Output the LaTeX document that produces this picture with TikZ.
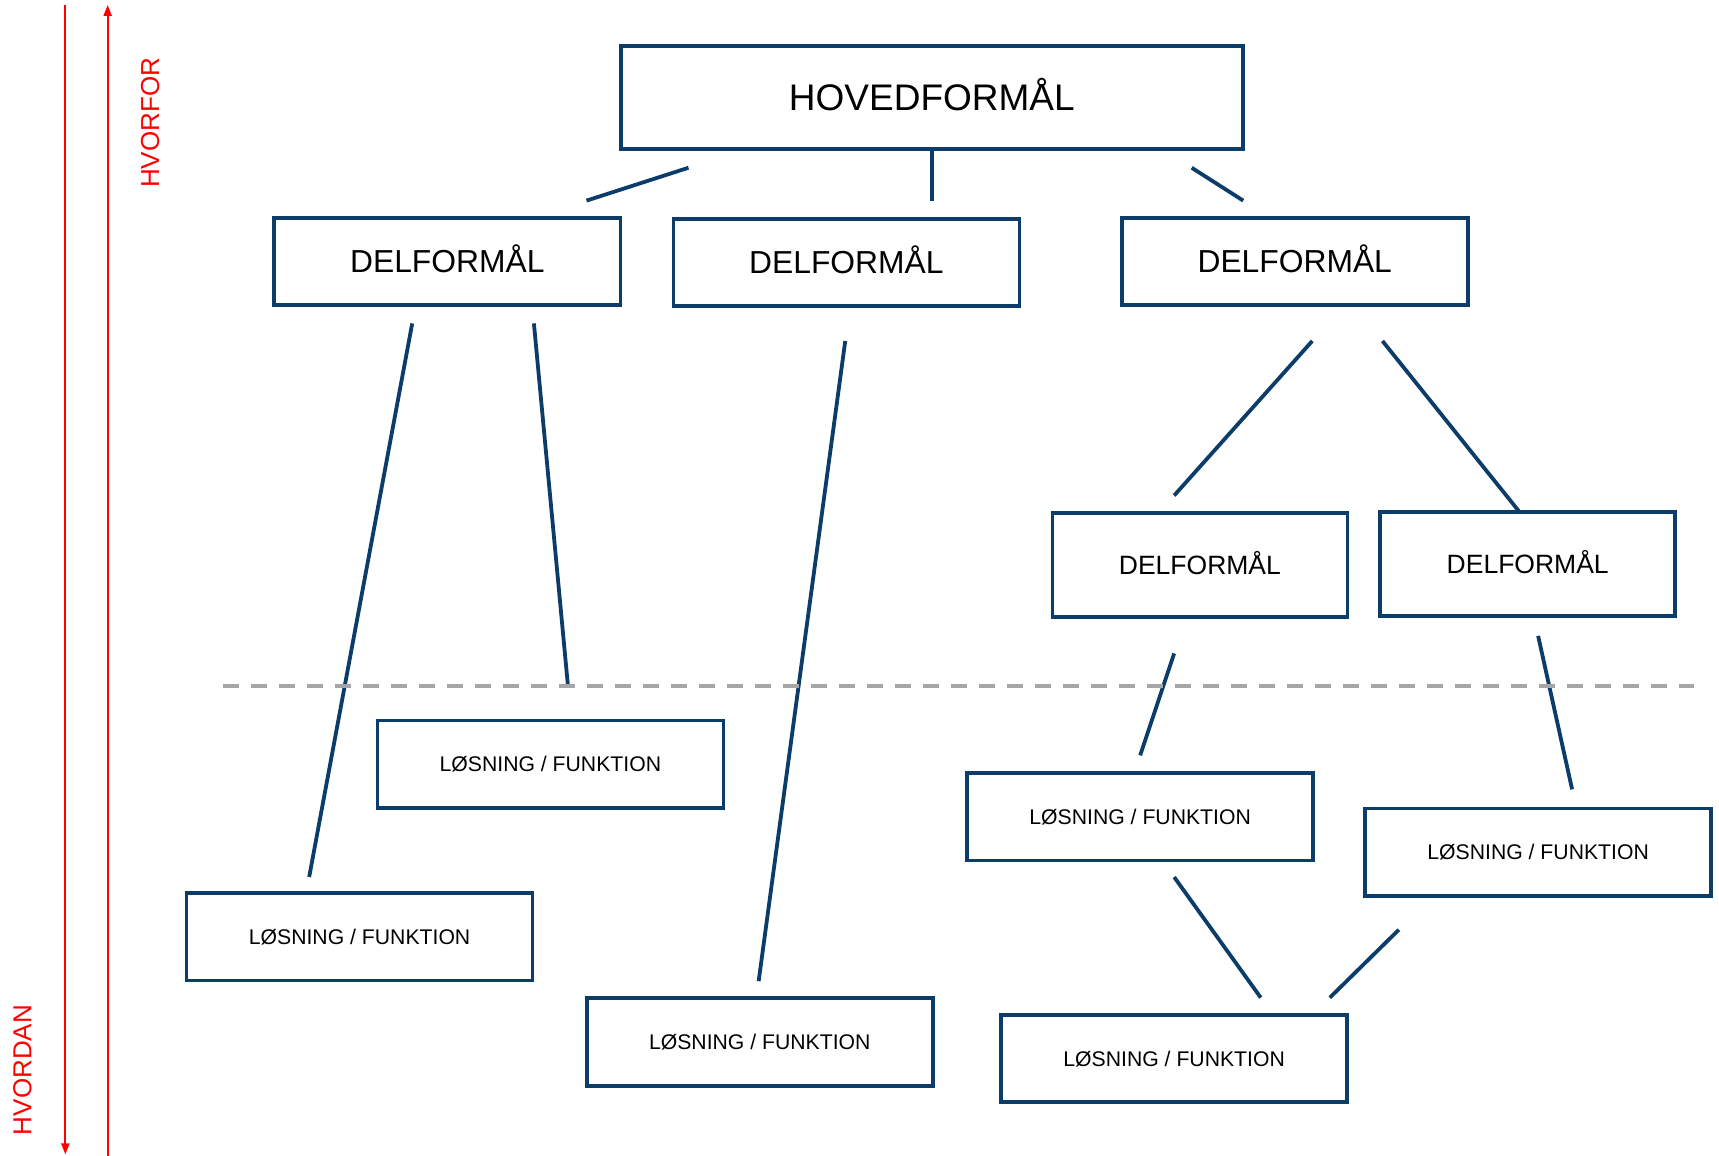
\documentclass[tikz,border=0pt]{standalone}
\usepackage{fontspec}
\setmainfont{Liberation Sans}
\usetikzlibrary{arrows.meta}
\definecolor{boxblue}{HTML}{0B3C6A}
\definecolor{dashgray}{HTML}{A6A6A6}
\definecolor{redarr}{HTML}{FF0000}
\begin{document}
\begin{tikzpicture}[x=1.0963pt,y=-1.0963pt,
  box/.style={draw=boxblue,line width=3.6pt,inner sep=0pt,align=center,text=black,text depth=0pt},
  hovedbox/.style={box,minimum width=622pt,minimum height=103pt,font=\fontsize{37}{40}\selectfont,text height=26.5pt},
  delbox/.style={box,minimum width=346pt,minimum height=86.6pt,font=\fontsize{31.8}{34}\selectfont,text height=22.8pt},
  smalldelbox/.style={box,minimum width=295pt,minimum height=104pt,font=\fontsize{26.5}{30}\selectfont,text height=19pt},
  losbox/.style={box,minimum width=346pt,minimum height=87.5pt,font=\fontsize{21.2}{24}\selectfont,text height=15.2pt},
  conn/.style={draw=boxblue,line width=3.8pt},
  sep/.style={draw=dashgray,line width=3.8pt,dash pattern=on 16pt off 12pt},
  redline/.style={draw=redarr,line width=2pt},
  redlabel/.style={text=redarr,font=\fontsize{26}{28}\selectfont,rotate=90,inner sep=0pt}
]
\useasboundingbox (0,0) rectangle (1568,1054);

% boxes
\node[hovedbox] (hoved) at (850,89) {HOVEDFORMÅL};
\node[delbox] (d1) at (408,238.5) {DELFORMÅL};
\node[delbox] (d2) at (772,239.5) {DELFORMÅL};
\node[delbox] (d3) at (1181,238.5) {DELFORMÅL};
\node[smalldelbox] (d4) at (1094.5,515.5) {DELFORMÅL};
\node[smalldelbox] (d5) at (1393.5,514.5) {DELFORMÅL};
\node[losbox] (l1) at (502,697) {LØSNING / FUNKTION};
\node[losbox] (l2) at (328,854.5) {LØSNING / FUNKTION};
\node[losbox] (l3) at (693,950.5) {LØSNING / FUNKTION};
\node[losbox] (l4) at (1040,745) {LØSNING / FUNKTION};
\node[losbox] (l5) at (1403,777.5) {LØSNING / FUNKTION};
\node[losbox] (l6) at (1071,965.5) {LØSNING / FUNKTION};

% connector end points
\coordinate (a1) at (628,153); \coordinate (a2) at (535,183);
\coordinate (b1) at (850,138); \coordinate (b2) at (850,183);
\coordinate (c1) at (1087,153); \coordinate (c2) at (1134,183);
\coordinate (e1) at (376,295); \coordinate (e2) at (282,800);
\coordinate (f1) at (487,295); \coordinate (f2) at (518,625);
\coordinate (g1) at (771,311); \coordinate (g2) at (692,895);
\coordinate (h1) at (1197,311); \coordinate (h2) at (1071,452);
\coordinate (i1) at (1261,311); \coordinate (i2) at (1386,467);
\coordinate (j1) at (1071,596); \coordinate (j2) at (1040,689);
\coordinate (k1) at (1403,580); \coordinate (k2) at (1434,720);
\coordinate (m1) at (1071,800); \coordinate (m2) at (1150,910);
\coordinate (n1) at (1276,848); \coordinate (n2) at (1213,910);

\draw[conn] (a1) -- (a2);
\draw[conn] (b1) -- (b2);
\draw[conn] (c1) -- (c2);
\draw[conn] (e1) -- (e2);
\draw[conn] (f1) -- (f2);
\draw[conn] (g1) -- (g2);
\draw[conn] (h1) -- (h2);
\draw[conn] (i1) -- (i2);
\draw[conn] (j1) -- (j2);
\draw[conn] (k1) -- (k2);
\draw[conn] (m1) -- (m2);
\draw[conn] (n1) -- (n2);

% separator
\coordinate (s1) at (203,626); \coordinate (s2) at (1545,626);
\draw[sep] (s1) -- (s2);

% red axes
\coordinate (r1top) at (59.6,4.5); \coordinate (r1bot) at (59.6,1053);
\coordinate (r2top) at (98.2,4.5); \coordinate (r2bot) at (98.2,1054);
\draw[redline,-{Triangle[length=11pt,width=8pt]}] (r1top) -- (r1bot);
\draw[redline,-{Triangle[length=11pt,width=8pt]}] (r2bot) -- (r2top);
\node[redlabel] (why) at (137,112) {HVORFOR};
\node[redlabel] (how) at (20.5,976) {HVORDAN};
\end{tikzpicture}
\end{document}
